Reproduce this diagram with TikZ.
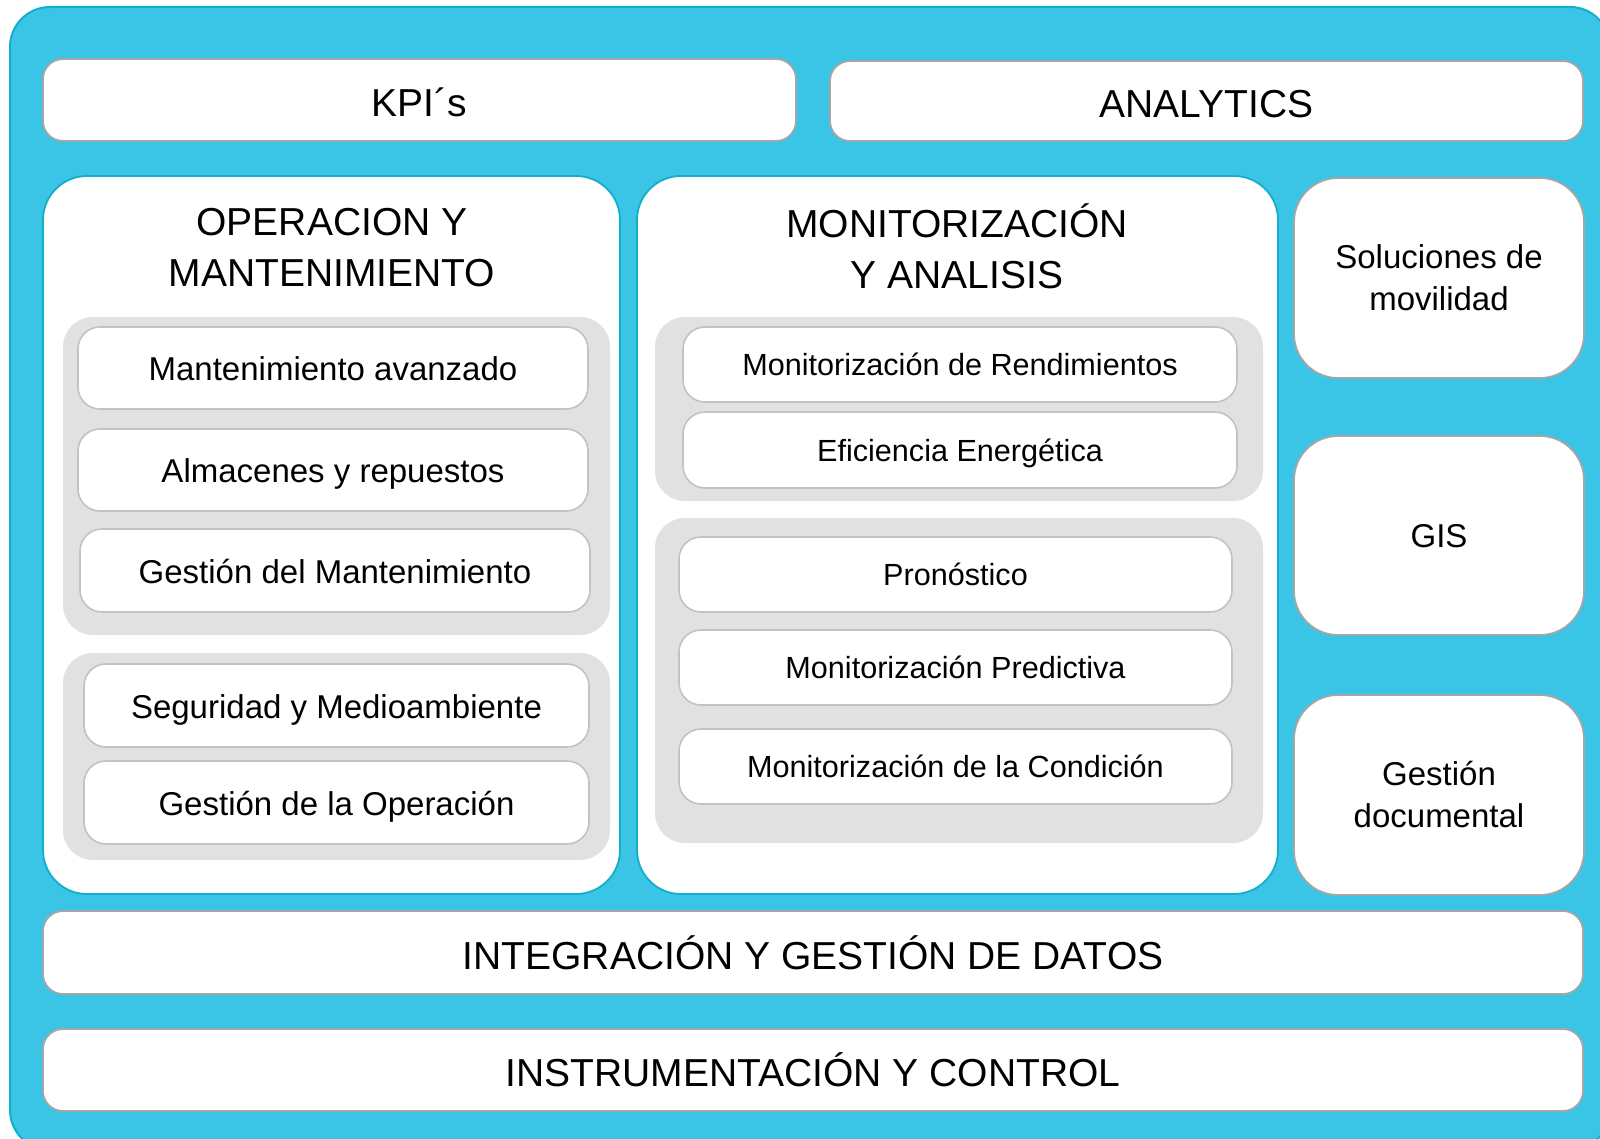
\documentclass[tikz,border=0pt]{standalone}
\usepackage{fontspec}
\setmainfont{Liberation Sans}
\usetikzlibrary{positioning}

\definecolor{skyfill}{HTML}{3AC4E6}
\definecolor{skyline}{HTML}{12AFC8}
\definecolor{barline}{HTML}{A6A6A6}
\definecolor{grpfill}{HTML}{E1E1E1}
\definecolor{itemline}{HTML}{C2C2C2}

\newcommand\bigtext{\fontsize{19.5}{25.5}\selectfont}
\newcommand\midtext{\fontsize{16.5}{21}\selectfont}
\newcommand\smalltext{\fontsize{15.3}{20}\selectfont}

\begin{document}
\begin{tikzpicture}[x=0.5pt,y=-0.5pt,inner sep=0pt,
    boxsize/.style 2 args={minimum width=#1*0.5pt,minimum height=#2*0.5pt},
    bar/.style={draw=barline,fill=white,line width=0.9pt,rounded corners=10pt,font=\bigtext,
        text height=16.5pt,text depth=0pt},
    panel/.style={draw=skyline,fill=white,line width=0.9pt,rounded corners=22pt},
    title/.style={font=\bigtext,align=center},
    side/.style={draw=barline,fill=white,line width=0.9pt,rounded corners=22pt,font=\midtext,align=center},
    group/.style={fill=grpfill,rounded corners=15pt},
    item/.style={draw=itemline,fill=white,line width=0.8pt,rounded corners=11pt,font=\midtext,
        text height=12.8pt,text depth=0pt},
    sitem/.style={item,font=\smalltext,text height=11.3pt}]
    \clip (0,0) rectangle (1600,1139);
    \draw[fill=skyfill,draw=skyline,line width=1pt,rounded corners=20pt]
        (10,7) rectangle (1610,1150);

    % top bars
    \node[bar,boxsize={753}{82}]  (kpi)  at (419.5,100)  {KPI´s};
    \node[bar,boxsize={753}{80}]  (anl)  at (1206.5,101) {ANALYTICS};

    % operacion y mantenimiento
    \node[panel,boxsize={577}{718}] (om) at (331.5,535) {};
    \node[title] (omtitle) at (332,248) {OPERACION Y\\MANTENIMIENTO};
    \node[group,boxsize={547}{318}] (omg1) at (336.5,476) {};
    \node[group,boxsize={547}{207}] (omg2) at (336.5,756.5) {};
    \node[item,boxsize={510}{82}] (mav) at (333,368)     {Mantenimiento avanzado};
    \node[item,boxsize={510}{82}] (alm) at (333,470)     {Almacenes y repuestos};
    \node[item,boxsize={510}{83}] (gmt) at (335,570.5)   {Gestión del Mantenimiento};
    \node[item,boxsize={505}{83}] (seg) at (336.5,705.5) {Seguridad y Medioambiente};
    \node[item,boxsize={505}{83}] (gop) at (336.5,802.5) {Gestión de la Operación};

    % monitorizacion y analisis
    \node[panel,boxsize={641}{718}] (ma) at (957.5,535) {};
    \node[title] (matitle) at (957,246.5) {MONITORIZACIÓN\\Y ANALISIS};
    \node[group,boxsize={608}{184}] (mag1) at (959,409) {};
    \node[group,boxsize={608}{325}] (mag2) at (959,680.5) {};
    \node[sitem,boxsize={554}{75}] (mrd) at (960,364.5)   {Monitorización de Rendimientos};
    \node[sitem,boxsize={554}{76}] (efe) at (960,450)     {Eficiencia Energética};
    \node[sitem,boxsize={553}{75}] (prn) at (955.5,574.5) {Pronóstico};
    \node[sitem,boxsize={553}{75}] (mpr) at (955.5,667.5) {Monitorización Predictiva};
    \node[sitem,boxsize={553}{75}] (mcn) at (955.5,766.5) {Monitorización de la Condición};

    % right column
    \node[side,boxsize={290}{200}] (mov) at (1439,278)   {Soluciones de\\movilidad};
    \node[side,boxsize={290}{199},text height=11.8pt,text depth=0pt] (gis) at (1439,535.5) {GIS};
    \node[side,boxsize={290}{200}] (doc) at (1439,795)   {Gestión\\documental};

    % bottom bars
    \node[bar,boxsize={1540}{83}] (dat) at (813,952.5) {INTEGRACIÓN Y GESTIÓN DE DATOS};
    \node[bar,boxsize={1540}{82}] (ins) at (813,1070)  {INSTRUMENTACIÓN Y CONTROL};
\end{tikzpicture}
\end{document}
